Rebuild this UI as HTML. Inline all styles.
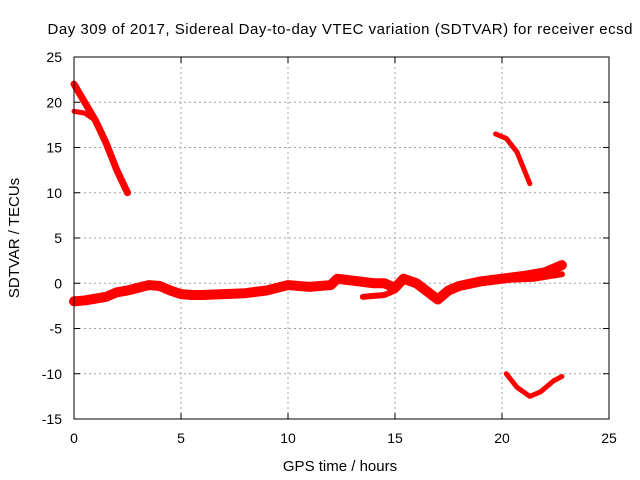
<!DOCTYPE html>
<html><head><meta charset="utf-8"><style>
body{margin:0;background:#fff;}
svg{display:block;font-family:"Liberation Sans",sans-serif;}
</style></head><body>
<svg id="c" width="640" height="480">
<text x="340" y="34" text-anchor="middle" font-size="15" textLength="585">Day 309 of 2017, Sidereal Day-to-day VTEC variation (SDTVAR) for receiver ecsd</text>
<text x="340" y="471" text-anchor="middle" font-size="15">GPS time / hours</text>
<text transform="translate(19,238) rotate(-90)" text-anchor="middle" font-size="15">SDTVAR / TECUs</text>
<g id="grid"></g><g id="marks"></g>
<rect x="74" y="57" width="535" height="362" fill="none" stroke="#000"/>
</svg>
<script>
const xTicks=[0,5,10,15,20,25];
const yTicks=[25,20,15,10,5,0,-5,-10,-15];
const bandX=[0,0.5,1,1.5,2,2.5,3,3.5,4,4.5,5,5.5,6,7,8,9,10,11,12,12.3,13,14,14.5,15,15.4,16,17,17.5,18,19,20,21,22,22.8];
const bandY=[-2,-1.9,-1.7,-1.5,-1,-0.8,-0.5,-0.2,-0.3,-0.8,-1.2,-1.3,-1.3,-1.2,-1.1,-0.8,-0.2,-0.4,-0.2,0.5,0.3,0,0,-0.5,0.5,0,-1.8,-0.8,-0.3,0.2,0.5,0.8,1.2,2];
const band2X=[13.5,14,14.5,15];
const band2Y=[-1.5,-1.4,-1.3,-0.8];
const band3X=[19.5,20.5,21.5,22.8];
const band3Y=[0.6,0.4,0.5,1];
const seg1X=[0,0.5,1,1.5,2,2.5];
const seg1Y=[22,20,18,15.5,12.5,10];
const seg1bX=[0,0.5,1];
const seg1bY=[19,18.8,18];
const seg2X=[19.7,20.2,20.7,21.3];
const seg2Y=[16.5,16,14.5,11];
const seg3X=[20.2,20.7,21.3,21.8,22.4,22.8];
const seg3Y=[-10,-11.5,-12.5,-12,-10.8,-10.3];
const X0=74,X1=609,Y0=419,Y1=57;
const sx=v=>X0+(v-0)/25*(X1-X0);
const sy=v=>Y0-(v+15)/40*(Y0-Y1);
const NS="http://www.w3.org/2000/svg";
const grid=document.getElementById('grid'),marks=document.getElementById('marks');
function mk(tag,at,parent){const e=document.createElementNS(NS,tag);for(const k in at)e.setAttribute(k,at[k]);parent.appendChild(e);return e;}
xTicks.forEach(t=>{const x=sx(t);
 if(t>0&&t<25){const l=mk('line',{x1:x,x2:x,y1:Y1,y2:Y0,stroke:'#a0a0a0','stroke-dasharray':'2,3'},grid);
 
 }
 mk('line',{x1:x,x2:x,y1:Y0,y2:Y0-6,stroke:'#000'},grid);mk('line',{x1:x,x2:x,y1:Y1,y2:Y1+6,stroke:'#000'},grid);
 const tx=mk('text',{x:x,y:Y0+24,'text-anchor':'middle','font-size':14},grid);tx.textContent=t;
 
 });
yTicks.forEach(t=>{const y=sy(t);
 if(t>-15&&t<25){const l=mk('line',{x1:X0,x2:X1,y1:y,y2:y,stroke:'#a0a0a0','stroke-dasharray':'2,3'},grid);
 
 }
 mk('line',{x1:X0,x2:X0+6,y1:y,y2:y,stroke:'#000'},grid);mk('line',{x1:X1,x2:X1-6,y1:y,y2:y,stroke:'#000'},grid);
 const tx=mk('text',{x:X0-12,y:y+5,'text-anchor':'end','font-size':14},grid);tx.textContent=t;
 
 });
function series(xs,ys,w,name){const p=mk('polyline',{points:xs.map((v,i)=>sx(v)+','+sy(ys[i])).join(' '),fill:'none',stroke:'#ff0000','stroke-width':w,'stroke-linejoin':'round','stroke-linecap':'round'},marks);
 
 }
series(bandX,bandY,10,'main-band');
series(band2X,band2Y,6,'lower-branch');
series(band3X,band3Y,6,'late-branch');
series(seg1X,seg1Y,7,'early-segment');
series(seg1bX,seg1bY,5,'early-segment-b');
series(seg2X,seg2Y,5,'late-high-segment');
series(seg3X,seg3Y,5,'late-low-segment');
</script>
</body></html>
